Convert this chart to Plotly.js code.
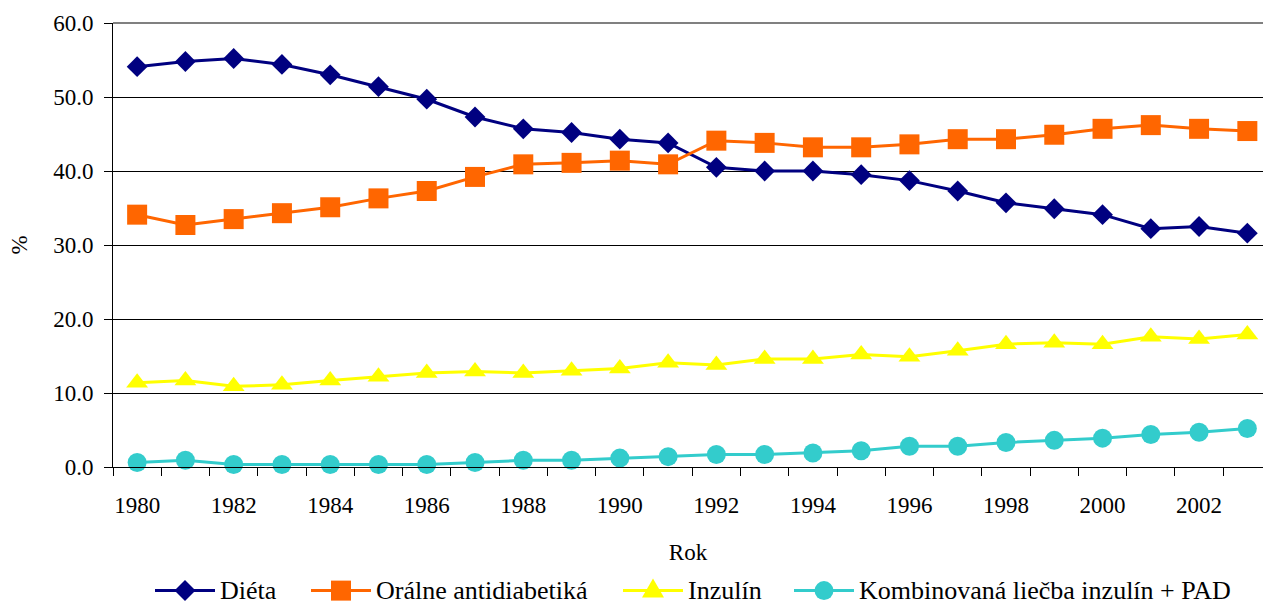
<!DOCTYPE html>
<html>
<head>
<meta charset="utf-8">
<script src="https://cdn.plot.ly/plotly-3.0.1.min.js"></script>
<style>
html,body{margin:0;padding:0;background:#fff;}
#chart{width:1263px;height:605px;}
</style>
</head>
<body>
<div id="chart"></div>
<script>
// Data
const years = [1980,1981,1982,1983,1984,1985,1986,1987,1988,1989,1990,1991,1992,1993,1994,1995,1996,1997,1998,1999,2000,2001,2002,2003];
const dieta = [54.1,54.8,55.2,54.4,53.0,51.4,49.7,47.3,45.7,45.2,44.3,43.8,40.5,40.0,40.0,39.5,38.7,37.3,35.7,34.9,34.1,32.2,32.5,31.6];
const oralne = [34.1,32.7,33.5,34.3,35.1,36.3,37.3,39.2,40.9,41.1,41.4,40.9,44.1,43.8,43.2,43.2,43.6,44.3,44.3,44.9,45.7,46.2,45.7,45.4];
const inzulin = [11.4,11.7,10.9,11.1,11.7,12.2,12.7,12.9,12.7,13.0,13.3,14.1,13.8,14.6,14.6,15.2,14.9,15.7,16.6,16.8,16.6,17.6,17.3,17.9];
const kombinovana = [0.6,0.9,0.35,0.35,0.35,0.35,0.35,0.6,0.9,0.9,1.2,1.4,1.7,1.7,1.9,2.2,2.8,2.8,3.3,3.6,3.9,4.4,4.7,5.2];
const seriesNames = ["Diéta","Orálne antidiabetiká","Inzulín","Kombinovaná liečba inzulín + PAD"];
const xTickLabels = ["1980","1982","1984","1986","1988","1990","1992","1994","1996","1998","2000","2002"];
const yTitle = "%";
const xTitle = "Rok";

const serif = "'Liberation Serif', serif";

// styles
const styles = [
  {color: '#000080', symbol: 'diamond', size: 16},
  {color: '#FF6600', symbol: 'square', size: 20},
  {color: '#FFFF00', symbol: 'triangle-up', size: 19},
  {color: '#33CCCC', symbol: 'circle', size: 19}
];
const seriesValues = [dieta, oralne, inzulin, kombinovana];

const data = seriesValues.map((vals, i) => ({
  x: years, y: vals, name: seriesNames[i], type: 'scatter', mode: 'lines+markers',
  line: {color: styles[i].color, width: 3},
  marker: {color: styles[i].color, symbol: styles[i].symbol, size: styles[i].size, line: {width: 0}},
  cliponaxis: false, showlegend: false
}));

// geometry of the plot area (pixels)
const W = 1263, H = 605;
const plotLeft = 113, plotRight = 1263, plotTop = 23, plotBottom = 467.3;
const catW = 48.27;
const xMax = years[0] - 0.5 + (plotRight - plotLeft) / catW;
const px2x = p => (p - plotLeft) / (plotRight - plotLeft);
const py2y = p => (plotBottom - p) / (plotBottom - plotTop);

// custom legend (line swatch with marker + text)
const legendStarts = [155, 311, 623, 794];
const legendY = 591;
const swatchLen = 60;
const shapes = [
  {type: 'line', xref: 'paper', yref: 'paper', x0: 0, x1: 1, y0: 1, y1: 1, line: {color: '#808080', width: 2}, layer: 'above'}
];
const annotations = [];
const markerPaths = {
  'diamond': 'M0,-10.5L10.5,0L0,10.5L-10.5,0Z',
  'square': 'M-10,-10H10V10H-10Z',
  'triangle-up': 'M-11,-7H11L0,12Z'
};
legendStarts.forEach((sx, i) => {
  const st = styles[i];
  shapes.push({type: 'line', xref: 'paper', yref: 'paper',
    x0: px2x(sx), x1: px2x(sx + swatchLen), y0: py2y(legendY), y1: py2y(legendY),
    line: {color: st.color, width: 3}, layer: 'above'});
  const cx = px2x(sx + swatchLen / 2), cy = py2y(legendY);
  if (st.symbol === 'circle') {
    shapes.push({type: 'circle', xref: 'paper', yref: 'paper', xsizemode: 'pixel', ysizemode: 'pixel',
      xanchor: cx, yanchor: cy, x0: -9.5, x1: 9.5, y0: -9.5, y1: 9.5,
      fillcolor: st.color, line: {width: 0}, layer: 'above'});
  } else {
    shapes.push({type: 'path', xref: 'paper', yref: 'paper', xsizemode: 'pixel', ysizemode: 'pixel',
      xanchor: cx, yanchor: cy, path: markerPaths[st.symbol],
      fillcolor: st.color, line: {width: 0}, layer: 'above'});
  }
  annotations.push({xref: 'paper', yref: 'paper', x: px2x(sx + swatchLen + 3), y: py2y(legendY),
    xanchor: 'left', yanchor: 'middle', showarrow: false, text: seriesNames[i],
    font: {family: serif, size: 26, color: '#000'}});
});

const layout = {
  width: W, height: H,
  margin: {l: plotLeft, r: W - plotRight, t: plotTop, b: H - plotBottom},
  paper_bgcolor: '#fff', plot_bgcolor: '#fff',
  font: {family: serif, color: '#000', size: 23},
  showlegend: false,
  xaxis: {
    range: [years[0] - 0.5, xMax],
    tickmode: 'array',
    tickvals: xTickLabels.map(Number),
    ticktext: xTickLabels,
    ticks: 'outside', ticklen: 8, tickcolor: 'rgba(0,0,0,0)',
    minor: {tickmode: 'array', tickvals: years.map(v => v - 0.5), ticks: 'outside', ticklen: 8, tickcolor: '#000', tickwidth: 1, showgrid: false},
    showgrid: false, zeroline: false,
    showline: true, linecolor: '#000', linewidth: 1,
    tickfont: {family: serif, size: 23, color: '#000'},
    ticklabelstandoff: 9,
    title: {text: xTitle, font: {family: serif, size: 23, color: '#000'}, standoff: 27}
  },
  yaxis: {
    range: [0, 60], dtick: 10, tick0: 0, tickformat: '.1f',
    ticks: 'outside', ticklen: 8, tickcolor: '#000', tickwidth: 1,
    showgrid: true, gridcolor: '#000', gridwidth: 1,
    zeroline: false, showline: true, linecolor: '#000', linewidth: 1,
    tickfont: {family: serif, size: 23, color: '#000'},
    ticklabelstandoff: 6,
    title: {text: yTitle, font: {family: serif, size: 23, color: '#000'}, standoff: 19}
  },
  shapes: shapes,
  annotations: annotations
};

Plotly.newPlot('chart', data, layout, {displayModeBar: false, staticPlot: true});
</script>
</body>
</html>
